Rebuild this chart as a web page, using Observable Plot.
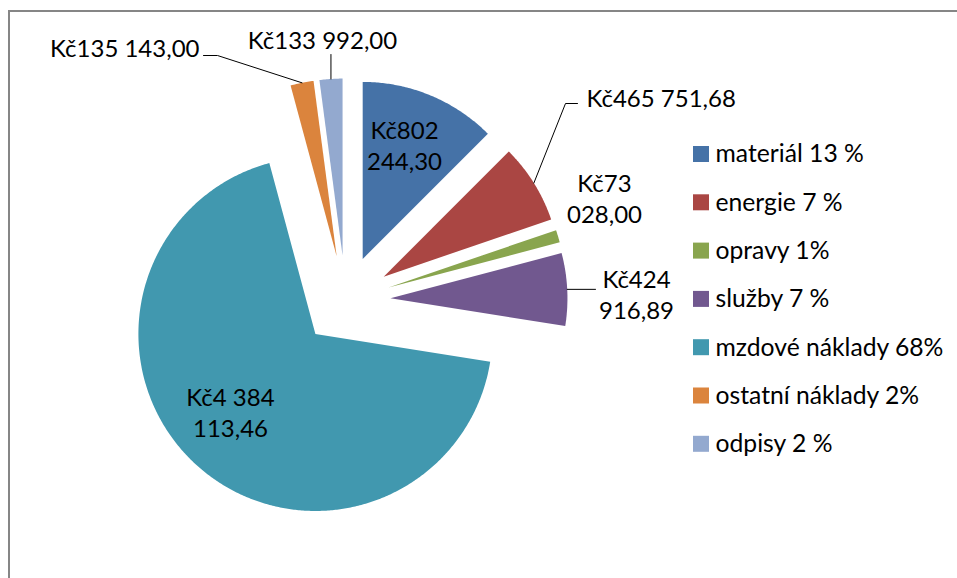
<!DOCTYPE html>
<html>
<head>
<meta charset="utf-8">
<script src="https://cdn.jsdelivr.net/npm/d3@7"></script>
<script src="https://cdn.jsdelivr.net/npm/@observablehq/plot@0.6"></script>
<style>
  html, body { margin: 0; padding: 0; background: #fff; }
  #chart svg { display: block; }
</style>
</head>
<body>
<div id="chart"></div>
<script>
// ---- data ----
const names = ["materiál", "energie", "opravy", "služby", "mzdové náklady", "ostatní náklady", "odpisy"];
const values = [802244.30, 465751.68, 73028.00, 424916.89, 4384113.46, 135143.00, 133992.00];
const valueLabels = ["Kč802\n244,30", "Kč465 751,68", "Kč73\n028,00", "Kč424\n916,89", "Kč4 384\n113,46", "Kč135 143,00", "Kč133 992,00"];
const legendLabels = ["materiál 13 %", "energie 7 %", "opravy 1%", "služby 7 %", "mzdové náklady 68%", "ostatní náklady 2%", "odpisy 2 %"];
const colors = ["#4572A7", "#AA4643", "#89A54E", "#71588F", "#4198AF", "#DB843D", "#93A9CF"];

// ---- layout ----
const W = 957, H = 578;
const cx = 345, cy = 300, R = 177, explode = 45;
// label anchor positions (layout) and text anchors
const labelPos = [
  {x: 404, y: 144, anchor: "middle"},
  {x: 586, y: 97, anchor: "start"},
  {x: 604, y: 197, anchor: "middle"},
  {x: 636, y: 293, anchor: "middle"},
  {x: 230, y: 411, anchor: "middle"},
  {x: 199, y: 47, anchor: "end"},
  {x: 322, y: 39, anchor: "middle"}
];
// leader-line elbows (layout), null = no leader
const leaderElbows = [
  null,
  [[565, 103], [577, 103]],
  null,
  [[595, null]],
  null,
  [[217, 55], [203, 55]],
  [[null, 54]]
];
const legendX = 693, legendY0 = 154, legendStep = 48.3, legendBox = 16;
const font = "Lato, 'Liberation Sans', sans-serif";
const fs = 24, legendFs = 24.7;

// ---- geometry from data ----
const arcs = d3.pie().sort(null).startAngle(0).endAngle(2 * Math.PI)(values);
const slicePts = [];
const arcMid = [];
arcs.forEach((a, i) => {
  const mid = (a.startAngle + a.endAngle) / 2;
  const ox = cx + explode * Math.sin(mid), oy = cy - explode * Math.cos(mid);
  slicePts.push({name: names[i], x: ox, y: oy});
  const n = Math.max(2, Math.ceil((a.endAngle - a.startAngle) / (Math.PI / 360)));
  for (let k = 0; k <= n; k++) {
    const t = a.startAngle + (a.endAngle - a.startAngle) * k / n;
    slicePts.push({name: names[i], x: ox + R * Math.sin(t), y: oy - R * Math.cos(t)});
  }
  slicePts.push({name: names[i], x: ox, y: oy});
  arcMid.push([ox + R * Math.sin(mid), oy - R * Math.cos(mid)]);
});

const leaderPts = [];
leaderElbows.forEach((el, i) => {
  if (!el) return;
  const start = arcMid[i];
  leaderPts.push({id: i, x: start[0], y: start[1]});
  el.forEach(([ex, ey]) => {
    leaderPts.push({id: i, x: ex == null ? start[0] : ex, y: ey == null ? start[1] : ey});
  });
});

const labels = valueLabels.map((t, i) => ({text: t, x: labelPos[i].x, y: labelPos[i].y, anchor: labelPos[i].anchor}));
const legend = legendLabels.map((t, i) => ({name: names[i], text: t, y: legendY0 + i * legendStep}));

const textMarks = ["start", "middle", "end"].map(anc =>
  Plot.text(labels.filter(d => d.anchor === anc), {
    x: "x", y: "y", text: "text", textAnchor: anc, fontSize: fs, fontFamily: font,
    lineHeight: 1.3, fill: "#000"
  })
);

const chart = Plot.plot({
  width: W, height: H,
  margin: 0,
  x: {domain: [0, W], range: [0, W], axis: null},
  y: {domain: [0, H], range: [0, H], axis: null},
  color: {domain: names, range: colors},
  style: {background: "#fff", fontFamily: font},
  marks: [
    Plot.rect([{}], {x1: () => 9, x2: () => W + 10, y1: () => 11, y2: () => H + 10, fill: "none", stroke: "#868686", strokeWidth: 2}),
    Plot.line(slicePts, {x: "x", y: "y", z: "name", fill: "name", stroke: "none", curve: "linear"}),
    Plot.line(leaderPts, {x: "x", y: "y", z: "id", stroke: "#000", strokeWidth: 1}),
    ...textMarks,
    Plot.rect(legend, {x1: () => legendX, x2: () => legendX + legendBox, y1: d => d.y - legendBox / 2, y2: d => d.y + legendBox / 2, fill: "name"}),
    Plot.text(legend, {x: () => legendX + legendBox + 6, y: "y", text: "text", textAnchor: "start", fontSize: legendFs, fontFamily: font, fill: "#000"})
  ]
});
document.getElementById("chart").appendChild(chart);
</script>
</body>
</html>
